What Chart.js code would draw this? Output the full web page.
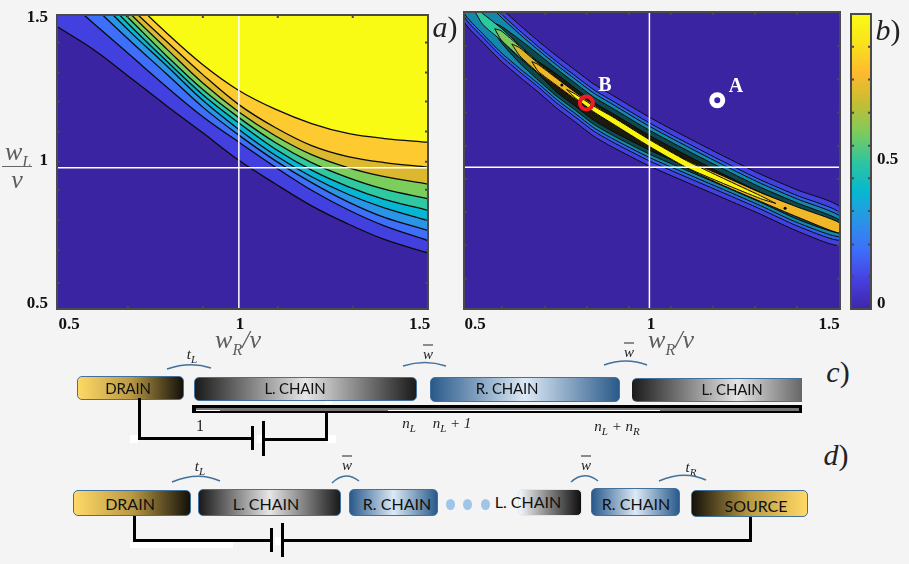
<!DOCTYPE html>
<html>
<head>
<meta charset="utf-8">
<script src="https://cdn.jsdelivr.net/npm/chart.js@4"></script>
<style>
  html, body { margin: 0; padding: 0; background: #f4f4f4; }
  #page { position: relative; width: 909px; height: 564px; overflow: hidden; font-family: Lato, sans-serif; }
  canvas { position: absolute; }
  svg { position: absolute; left: 0; top: 0; }
  .t { position: absolute; transform: translate(-50%, -50%); white-space: nowrap; }
  .m { font-family: "Liberation Serif", serif; font-style: italic; color: #222; font-size: 15px; }
  .m sub { font-size: 11px; }
  .panel { font-family: "Liberation Serif", serif; font-style: italic; font-size: 30px; color: #222; }
  .panel span { font-style: normal; font-weight: 100; }
  .ax { font-family: "Liberation Serif", serif; font-style: italic; font-size: 26px; color: #5c5c5c; }
  .ax sub { font-size: 16px; }
  .pt { font-family: "Liberation Serif", serif; font-weight: bold; font-size: 20px; color: #fff; }
  .box { position: absolute; box-sizing: border-box; border: 1px solid #41719c; border-radius: 5px; }
  .lbl { position: absolute; transform: translate(-50%, -50%); white-space: nowrap; color: #111; font-size: 15px; letter-spacing: -0.2px; }
  .lbl.big { font-size: 16px; letter-spacing: 0; }
  .drain { background: linear-gradient(90deg, #ffd966 0%, #b99a45 50%, #14110a 100%); }
  .source { background: linear-gradient(90deg, #14110a 0%, #b99a45 50%, #ffd966 100%); }
  .lchain { background: linear-gradient(90deg, #1a1a1a 0%, #e6e6e6 50%, #1a1a1a 100%); }
  .rchain { background: linear-gradient(90deg, #2a5a8a 0%, #dce9f6 50%, #2a5a8a 100%); }
  .blk { position: absolute; background: #000; }
  .wht { position: absolute; background: #fff; }
  .dot { position: absolute; width: 9px; height: 11px; border-radius: 50%; background: #9fc5e8; }
</style>
</head>
<body>
<div id="page">
  <canvas id="plotA" width="450" height="345" style="left:0;top:0"></canvas>
  <canvas id="plotB" width="400" height="345" style="left:450px;top:0"></canvas>
  <canvas id="colorBar" width="59" height="345" style="left:850px;top:0"></canvas>

  <div class="t panel" style="left:445px;top:27px">a<span>)</span></div>
  <div class="t panel" style="left:888px;top:30px">b<span>)</span></div>
  <div class="t panel" style="left:838px;top:372px">c<span>)</span></div>
  <div class="t panel" style="left:836px;top:455px">d<span>)</span></div>

  <div class="t ax" style="left:18px;top:154px">w<sub>L</sub></div>
  <div class="blk" style="left:2px;top:166px;width:30px;height:1px;background:#666"></div>
  <div class="t ax" style="left:17px;top:180px">v</div>
  <div class="t ax" style="left:238px;top:342px">w<sub>R</sub>/v</div>
  <div class="t ax" style="left:671px;top:342px">w<sub>R</sub>/v</div>

  <div class="t pt" style="left:736px;top:85px">A</div>
  <div class="t pt" style="left:605px;top:84px">B</div>

  <!-- c) row -->
  <div class="box drain" style="left:77px;top:376px;width:107px;height:24px"></div>
  <div class="box lchain" style="left:194px;top:377px;width:223px;height:24px"></div>
  <div class="box rchain" style="left:430px;top:377px;width:190px;height:25px"></div>
  <div class="box" style="left:632px;top:378px;width:170px;height:24px;border-radius:5px 0 0 5px;border-width:1px 0;background:linear-gradient(90deg,#1a1a1a 0%,#e4e4e4 62%,#666 100%)"></div>
  <div class="lbl" style="left:128px;top:388px">DRAIN</div>
  <div class="lbl" style="left:295px;top:388px">L. CHAIN</div>
  <div class="lbl" style="left:507px;top:388px">R. CHAIN</div>
  <div class="lbl" style="left:732px;top:389px">L. CHAIN</div>

  <div class="blk" style="left:192px;top:405px;width:610px;height:8px"></div>
  <div class="blk" style="left:196px;top:408px;width:603px;height:3px;background:#777"></div>
  <div class="wht" style="left:196px;top:410px;width:24px;height:1px"></div>
  <div class="wht" style="left:388px;top:410px;width:272px;height:1px"></div>

  <div class="wht" style="left:130px;top:435px;width:8px;height:8px"></div>
  <div class="wht" style="left:257px;top:435px;width:7px;height:8px"></div>
  <div class="wht" style="left:327px;top:435px;width:9px;height:8px"></div>
  <div class="wht" style="left:325px;top:401px;width:7px;height:3px"></div>
  <div class="blk" style="left:138px;top:398px;width:3px;height:42px"></div>
  <div class="blk" style="left:138px;top:437px;width:115px;height:3px"></div>
  <div class="blk" style="left:251px;top:426px;width:3px;height:24px"></div>
  <div class="blk" style="left:262px;top:421px;width:3px;height:35px"></div>
  <div class="blk" style="left:262px;top:438px;width:66px;height:3px"></div>
  <div class="blk" style="left:325px;top:412px;width:3px;height:29px"></div>

  <div class="t m" style="left:192px;top:355px">t<sub>L</sub></div>
  <div class="t m" style="left:428px;top:354px"><span style="text-decoration:overline">w</span></div>
  <div class="t m" style="left:629px;top:352px"><span style="text-decoration:overline">w</span></div>
  <div class="t m" style="left:200px;top:426px;font-style:normal;font-size:16px">1</div>
  <div class="t m" style="left:409px;top:424px">n<sub>L</sub></div>
  <div class="t m" style="left:452px;top:424px">n<sub>L</sub> + 1</div>
  <div class="t m" style="left:617px;top:427px">n<sub>L</sub> + n<sub>R</sub></div>

  <!-- d) row -->
  <div class="box drain" style="left:73px;top:490px;width:118px;height:26px"></div>
  <div class="box lchain" style="left:198px;top:489px;width:143px;height:27px"></div>
  <div class="box rchain" style="left:349px;top:489px;width:89px;height:27px"></div>
  <div class="dot" style="left:446px;top:499px"></div>
  <div class="dot" style="left:463px;top:499px"></div>
  <div class="dot" style="left:481px;top:499px"></div>
  <div class="box" style="left:518px;top:489px;width:64px;height:27px;border-color:#dbe7f3;background:linear-gradient(90deg,#f6f9fc 0%,#8a8a8a 45%,#0e0e0e 100%)"></div>
  <div class="box rchain" style="left:591px;top:488px;width:89px;height:28px"></div>
  <div class="box source" style="left:691px;top:490px;width:117px;height:27px"></div>
  <div class="lbl big" style="left:130px;top:503px">DRAIN</div>
  <div class="lbl big" style="left:266px;top:503px">L. CHAIN</div>
  <div class="lbl big" style="left:397px;top:503px">R. CHAIN</div>
  <div class="lbl big" style="left:528px;top:501px">L. CHAIN</div>
  <div class="lbl big" style="left:636px;top:503px">R. CHAIN</div>
  <div class="lbl big" style="left:756px;top:505px">SOURCE</div>

  <div class="wht" style="left:130px;top:542px;width:103px;height:6px"></div>
  <div class="wht" style="left:275px;top:537px;width:6px;height:8px"></div>
  <div class="blk" style="left:133px;top:516px;width:3px;height:26px"></div>
  <div class="blk" style="left:133px;top:539px;width:138px;height:3px"></div>
  <div class="blk" style="left:270px;top:528px;width:3px;height:24px"></div>
  <div class="blk" style="left:281px;top:523px;width:3px;height:34px"></div>
  <div class="blk" style="left:281px;top:539px;width:471px;height:3px"></div>
  <div class="blk" style="left:749px;top:517px;width:3px;height:25px"></div>

  <div class="t m" style="left:200px;top:467px">t<sub>L</sub></div>
  <div class="t m" style="left:347px;top:465px"><span style="text-decoration:overline">w</span></div>
  <div class="t m" style="left:586px;top:465px"><span style="text-decoration:overline">w</span></div>
  <div class="t m" style="left:691px;top:468px">t<sub>R</sub></div>

  <svg width="909" height="564" fill="none" stroke="#41719c" stroke-width="1.5">
    <path d="M167 369 Q190 361 211 368"/>
    <path d="M403 366 Q425 359 446 366"/>
    <path d="M604 365 Q626 357 647 365"/>
    <path d="M172 482 Q198 471 220 481"/>
    <path d="M332 483 Q345 470 359 481"/>
    <path d="M571 482 Q584 470 598 481"/>
    <path d="M659 481 Q684 470 706 480"/>
  </svg>
</div>

<script>
// panel a) contour lines, w_L/v at each w_R/v of gridA
const gridA = [0.5, 0.6, 0.7, 0.8, 0.9, 1.0, 1.1, 1.2, 1.3, 1.4, 1.52];
const contour1 = [1.499, 1.418, 1.320, 1.220, 1.124, 1.026, 0.943, 0.865, 0.801, 0.746, 0.698];
const contour2 = [1.624, 1.511, 1.399, 1.287, 1.181, 1.090, 1.002, 0.920, 0.851, 0.794, 0.742];
const contour3 = [1.695, 1.571, 1.450, 1.333, 1.215, 1.115, 1.025, 0.947, 0.879, 0.824, 0.778];
const contour4 = [1.741, 1.610, 1.482, 1.362, 1.239, 1.135, 1.044, 0.968, 0.906, 0.858, 0.813];
const contour5 = [1.769, 1.635, 1.504, 1.379, 1.259, 1.158, 1.066, 0.991, 0.933, 0.888, 0.849];
const contour6 = [1.787, 1.652, 1.525, 1.397, 1.277, 1.177, 1.089, 1.018, 0.965, 0.924, 0.890];
const contour7 = [1.808, 1.674, 1.546, 1.422, 1.300, 1.197, 1.113, 1.046, 1.000, 0.968, 0.942];
const contour8 = [1.830, 1.695, 1.568, 1.448, 1.330, 1.223, 1.142, 1.078, 1.039, 1.018, 1.002];
const contour9 = [1.879, 1.738, 1.602, 1.478, 1.365, 1.273, 1.207, 1.156, 1.121, 1.103, 1.090];
const contoursA = [contour1, contour2, contour3, contour4, contour5, contour6, contour7, contour8, contour9];
const coloursA = ['#4340e0', '#3d6ffb', '#2a94e6', '#07b6d3', '#2fc8a0', '#7bcd5c', '#dcb82e', '#fdcb2f', '#f9fb14'];

// panel b) nested bands around the resonance ridge
const gridB = [0.5, 0.55, 0.6, 0.65, 0.7, 0.75, 0.8, 0.85, 0.9, 1.0, 1.1, 1.2, 1.3, 1.4, 1.514];
const band0Top = [1.692, 1.628, 1.561, 1.501, 1.445, 1.392, 1.342, 1.293, 1.254, 1.176, 1.106, 1.039, 0.975, 0.919, 0.859];
const band0Bot = [1.515, 1.441, 1.374, 1.318, 1.265, 1.208, 1.159, 1.109, 1.071, 1.004, 0.947, 0.891, 0.834, 0.774, 0.725];
const band1Top = [1.672, 1.608, 1.541, 1.481, 1.425, 1.372, 1.322, 1.273, 1.234, 1.156, 1.086, 1.019, 0.955, 0.899, 0.839];
const band1Bot = [1.533, 1.459, 1.392, 1.336, 1.283, 1.226, 1.177, 1.127, 1.089, 1.022, 0.965, 0.909, 0.852, 0.792, 0.743];
const band2Top = [1.660, 1.596, 1.529, 1.469, 1.413, 1.360, 1.310, 1.261, 1.222, 1.144, 1.074, 1.007, 0.943, 0.887, 0.827];
const band2Bot = [1.545, 1.471, 1.404, 1.348, 1.295, 1.238, 1.189, 1.139, 1.101, 1.034, 0.977, 0.921, 0.864, 0.804, 0.755];
const band3X = [0.56, 0.6, 0.65, 0.7, 0.75, 0.8, 0.85, 0.9, 1.0, 1.1, 1.2, 1.3, 1.4, 1.514];
const band3Top = [1.520, 1.497, 1.450, 1.399, 1.346, 1.296, 1.247, 1.208, 1.130, 1.060, 0.993, 0.929, 0.873, 0.813];
const band3Bot = [1.520, 1.440, 1.367, 1.307, 1.250, 1.201, 1.151, 1.113, 1.046, 0.989, 0.933, 0.876, 0.816, 0.767];
const band4X = [0.66, 0.7, 0.75, 0.8, 0.85, 0.9, 1.0, 1.1, 1.2, 1.3, 1.4, 1.514];
const band4Top = [1.395, 1.372, 1.328, 1.278, 1.229, 1.190, 1.112, 1.042, 0.975, 0.911, 0.855, 0.795];
const band4Bot = [1.395, 1.330, 1.264, 1.215, 1.165, 1.127, 1.060, 1.003, 0.947, 0.890, 0.830, 0.781];

// teardrop shaped islands on the ridge, first point is the tip
const tealX = [0.52, 0.55, 0.6, 0.65, 0.7, 0.75];
const tealTop = [1.572, 1.542, 1.490, 1.430, 1.371, 1.300];
const tealBot = [1.572, 1.504, 1.447, 1.385, 1.332, 1.300];
const greenX = [0.583, 0.6, 0.65, 0.7, 0.75, 0.8];
const greenTop = [1.488, 1.481, 1.426, 1.368, 1.317, 1.251];
const greenBot = [1.488, 1.449, 1.388, 1.332, 1.284, 1.251];
const goldX = [0.629, 0.65, 0.7, 0.75, 0.8, 0.85];
const goldTop = [1.434, 1.421, 1.366, 1.315, 1.265, 1.205];
const goldBot = [1.434, 1.393, 1.333, 1.285, 1.238, 1.205];
const orangeX = [0.683, 0.7, 0.75, 0.8, 0.85, 0.9, 1.0, 1.1, 1.2, 1.3, 1.4, 1.514];
const orangeTop = [1.372, 1.362, 1.313, 1.264, 1.220, 1.180, 1.100, 1.026, 0.968, 0.910, 0.859, 0.803];
const orangeBot = [1.372, 1.338, 1.288, 1.240, 1.192, 1.153, 1.071, 0.997, 0.935, 0.879, 0.824, 0.767];
const coreX = [0.777, 0.8, 0.85, 0.9, 1.0, 1.1, 1.2, 1.3, 1.341];
const coreTop = [1.274, 1.258, 1.215, 1.178, 1.097, 1.023, 0.960, 0.899, 0.872];
const coreBot = [1.274, 1.244, 1.195, 1.154, 1.073, 0.999, 0.942, 0.889, 0.872];

const ridgeDotsX = [0.764, 1.366];
const ridgeDotsY = [1.290, 0.855];
const pointA = { x: 1.183, y: 1.236 };
const pointB = { x: 0.83, y: 1.226 };

// ticks
const xMarksA = [0.695, 0.901, 1.107, 1.313];
const yMarksA = [1.443, 1.337, 1.234, 1.128, 1.021, 0.922, 0.816, 0.709, 0.592];
const xMarksB = [0.602, 0.719, 0.831, 0.945, 1.058, 1.171, 1.285, 1.398];
const yMarksB = [1.428, 1.310, 1.193, 1.075, 0.958, 0.843, 0.725, 0.607];
const barMarks = [0.889, 0.778, 0.665, 0.553, 0.443, 0.332, 0.219, 0.110];
const tickLabels = ['0.5', '1', '1.5'];
const xLabelPlacesA = [0.533, 1.003, 1.497];
const xLabelPlacesB = [0.530, 1.004, 1.485];
const yLabelPlacesA = [0.518, 1.026, 1.532];
const barLabels = ['0', '0.5'];
const barLabelPlaces = [0.018, 0.505];

// colour bar stops, bottom to top
const barStops = ['#3e26a8', '#4740e0', '#3d6ffb', '#2a94e6', '#07b8d0', '#2fc59e', '#7ecb5b', '#c7bd32', '#feba2e', '#f9e21c', '#f9fb15'];

const indigo = '#3a24a1';
const tickFont = { family: 'Liberation Serif', size: 17, weight: 'bold' };

// plot background, frame and inward tick marks
const framePlugin = {
  id: 'frame',
  beforeDatasetsDraw(chart, args, o) {
    if (!o.bg) return;
    const a = chart.chartArea, c = chart.ctx;
    c.fillStyle = o.bg;
    c.fillRect(a.left, a.top, a.width, a.height);
  },
  afterDatasetsDraw(chart, args, o) {
    const a = chart.chartArea, c = chart.ctx;
    c.save();
    c.strokeStyle = '#4a4a4a';
    c.lineWidth = 2;
    c.strokeRect(a.left, a.top, a.width, a.height);
    (o.xMarks || []).forEach(v => {
      const p = chart.scales.x.getPixelForValue(v);
      c.beginPath();
      c.moveTo(p, a.top); c.lineTo(p, a.top + 3);
      c.moveTo(p, a.bottom); c.lineTo(p, a.bottom - 3);
      c.stroke();
    });
    (o.yMarks || []).forEach(v => {
      const p = chart.scales.y.getPixelForValue(v);
      c.beginPath();
      c.moveTo(a.left, p); c.lineTo(a.left + 3, p);
      c.moveTo(a.right, p); c.lineTo(a.right - 3, p);
      c.stroke();
    });
    c.restore();
  }
};

// axis box size is fixed so the plot area lands where the figure has it
function placedAxis(min, max, places, labels, pad, size, position) {
  return {
    type: 'linear', min, max, position,
    grid: { display: false, drawTicks: false }, border: { display: false },
    afterBuildTicks(s) { s.ticks = places.map(value => ({ value })); },
    afterFit(s) {
      if (s.isHorizontal()) s.height = size; else s.width = size;
      s.paddingTop = s.paddingBottom = s.paddingLeft = s.paddingRight = 0;
    },
    ticks: {
      autoSkip: false, maxRotation: 0, color: '#111', font: tickFont, padding: pad,
      callback: (v, i) => labels[i]
    }
  };
}

function whiteLines(xMin, xMax, yMin, yMax) {
  const st = { showLine: true, pointRadius: 0, borderColor: '#fff', borderWidth: 1.5, order: -5 };
  return [
    Object.assign({ data: [{ x: 1, y: yMin }, { x: 1, y: yMax }] }, st),
    Object.assign({ data: [{ x: xMin, y: 1 }, { x: xMax, y: 1 }] }, st)
  ];
}

// panel a
const datasetsA = contoursA.map((c, i) => ({
  data: c.map((y, j) => ({ x: gridA[j], y })),
  showLine: true, pointRadius: 0, tension: 0.35,
  borderColor: '#0a0a0a', borderWidth: 1.3,
  backgroundColor: coloursA[i], fill: 'end',
  order: contoursA.length - i
}));
new Chart(document.getElementById('plotA'), {
  type: 'scatter',
  data: { datasets: datasetsA.concat(whiteLines(0.5, 1.52, 0.5, 1.54)) },
  plugins: [framePlugin],
  options: {
    responsive: false, animation: false, events: [],
    layout: { autoPadding: false, padding: { left: 0, right: 22, top: 15, bottom: 0 } },
    plugins: { legend: { display: false }, tooltip: { enabled: false },
      frame: { bg: indigo, xMarks: xMarksA, yMarks: yMarksA } },
    scales: {
      x: placedAxis(0.5, 1.52, xLabelPlacesA, tickLabels, 5, 36, 'bottom'),
      y: placedAxis(0.5, 1.54, yLabelPlacesA, tickLabels, 9, 57, 'left')
    }
  }
});

// panel b
function outline(xs, top, bot) {
  const pts = xs.map((x, i) => ({ x, y: top[i] }));
  for (let i = xs.length - 1; i >= 0; i--) pts.push({ x: xs[i], y: bot[i] });
  pts.push(pts[0]);
  return pts;
}
const layersB = [
  [gridB, band0Top, band0Bot, '#4340e0'],
  [gridB, band1Top, band1Bot, '#2f62e6'],
  [gridB, band2Top, band2Bot, '#1588aa'],
  [band3X, band3Top, band3Bot, '#0d4a50'],
  [band4X, band4Top, band4Bot, '#1c1a0e'],
  [tealX, tealTop, tealBot, '#2ec89e'],
  [greenX, greenTop, greenBot, '#7cc95e'],
  [goldX, goldTop, goldBot, '#d8b52a'],
  [orangeX, orangeTop, orangeBot, '#f0b828'],
  [coreX, coreTop, coreBot, '#f9f50f']
];
const datasetsB = layersB.map((l, i) => ({
  data: outline(l[0], l[1], l[2]),
  showLine: true, pointRadius: 0, tension: 0.2,
  borderColor: '#0a0a0a', borderWidth: 1,
  backgroundColor: l[3], fill: 'shape',
  order: layersB.length - i
}));
datasetsB.push(...whiteLines(0.5, 1.514, 0.5, 1.547));
datasetsB.push({
  data: ridgeDotsX.map((x, i) => ({ x, y: ridgeDotsY[i] })),
  pointRadius: 1.5, pointBackgroundColor: '#000', pointBorderWidth: 0, order: -6
});
datasetsB.push({
  data: [pointA], pointRadius: 5.5, pointBorderWidth: 5,
  pointBorderColor: '#fff', pointBackgroundColor: indigo, order: -7
});
datasetsB.push({
  data: [pointB], pointRadius: 6.5, pointBorderWidth: 4,
  pointBorderColor: '#ee1c25', pointBackgroundColor: 'rgba(0,0,0,0)', order: -7
});
new Chart(document.getElementById('plotB'), {
  type: 'scatter',
  data: { datasets: datasetsB },
  plugins: [framePlugin],
  options: {
    responsive: false, animation: false, events: [],
    layout: { autoPadding: false, padding: { left: 14, right: 10, top: 12, bottom: 0 } },
    plugins: { legend: { display: false }, tooltip: { enabled: false },
      frame: { bg: indigo, xMarks: xMarksB, yMarks: yMarksB } },
    scales: {
      x: placedAxis(0.5, 1.514, xLabelPlacesB, tickLabels, 5, 36, 'bottom'),
      y: { type: 'linear', min: 0.5, max: 1.547, display: false }
    }
  }
});

// colour bar
function barGradient(ctx) {
  const a = ctx.chart.chartArea;
  if (!a) return barStops[0];
  const g = ctx.chart.ctx.createLinearGradient(0, a.bottom, 0, a.top);
  barStops.forEach((c, i) => g.addColorStop(i / (barStops.length - 1), c));
  return g;
}
new Chart(document.getElementById('colorBar'), {
  type: 'bar',
  data: { labels: [''], datasets: [{ data: [[0, 1]], backgroundColor: barGradient, barPercentage: 1, categoryPercentage: 1 }] },
  plugins: [framePlugin],
  options: {
    responsive: false, animation: false, events: [],
    layout: { autoPadding: false, padding: { left: 1, right: 0, top: 14, bottom: 36 } },
    plugins: { legend: { display: false }, tooltip: { enabled: false },
      frame: { yMarks: barMarks } },
    scales: {
      x: { display: false },
      y: placedAxis(0, 1, barLabelPlaces, barLabels, 6, 38, 'right')
    }
  }
});
</script>
</body>
</html>
